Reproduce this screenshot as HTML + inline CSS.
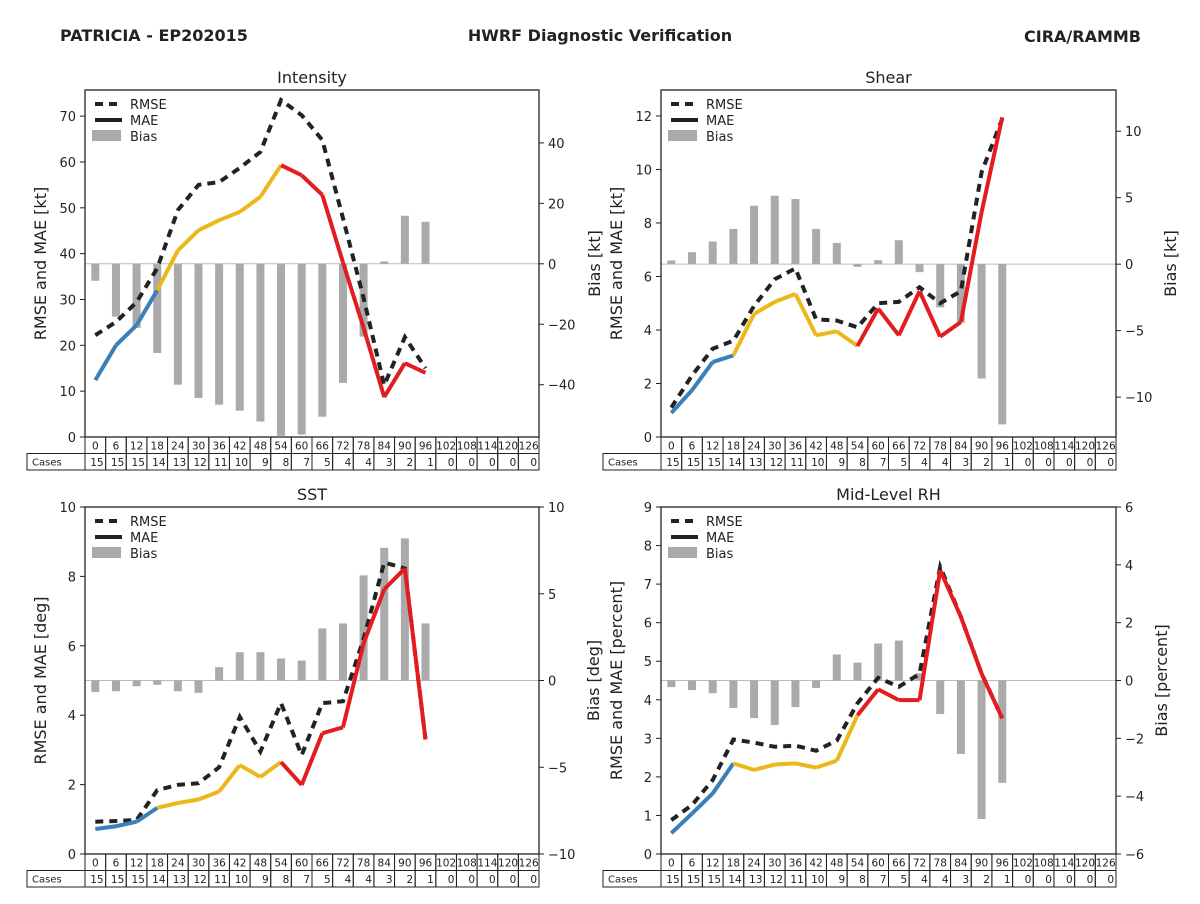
<!DOCTYPE html>
<html><head><meta charset="utf-8">
<style>
html,body{margin:0;padding:0;background:#fff;}
body{width:1200px;height:900px;overflow:hidden;font-family:"DejaVu Sans","Liberation Sans",sans-serif;}
svg text{font-family:"DejaVu Sans","Liberation Sans",sans-serif;fill:#222;}
</style></head>
<body>
<svg id="fig" width="1200" height="900" viewBox="0 0 1200 900">
<text x="60" y="41" font-size="16" font-weight="bold">PATRICIA - EP202015</text>
<text x="600" y="41" font-size="16" font-weight="bold" text-anchor="middle">HWRF Diagnostic Verification</text>
<text x="1141" y="42" font-size="16" font-weight="bold" text-anchor="end">CIRA/RAMMB</text>
</svg>
<script>
const leadTimes = [0,6,12,18,24,30,36,42,48,54,60,66,72,78,84,90,96,102,108,114,120,126];
const cases = [15,15,15,14,13,12,11,10,9,8,7,5,4,4,3,2,1,0,0,0,0,0];

const intRmse = [22.2,25.1,29.4,36.8,49.5,55,55.6,58.7,62.2,73.5,70.2,64.8,47.7,30.3,11.3,21.8,15];
const intMae = [12.4,20,24.4,32,40.7,45.1,47.3,49.1,52.4,59.3,57.1,52.8,38.1,23.8,8.7,16.1,14];
const intBias = [-5.6,-17.5,-21.2,-29.5,-40,-44.4,-46.6,-48.6,-52.2,-56.9,-56.5,-50.6,-39.4,-24.1,0.8,15.9,13.9];

const shRmse = [1.1,2.3,3.3,3.6,4.9,5.9,6.3,4.4,4.35,4.1,5.0,5.05,5.6,5.0,5.45,9.9,11.9];
const shMae = [0.9,1.75,2.8,3.05,4.6,5.05,5.35,3.8,3.95,3.4,4.8,3.8,5.45,3.75,4.3,8.4,11.95];
const shBias = [0.28,0.9,1.7,2.65,4.4,5.15,4.9,2.65,1.6,-0.2,0.3,1.8,-0.6,-3.25,-4.4,-8.6,-12.05];

const sstRmse = [0.93,0.95,0.98,1.84,1.99,2.04,2.5,3.95,2.95,4.35,2.85,4.35,4.4,6.2,8.4,8.23,3.3];
const sstMae = [0.72,0.8,0.93,1.33,1.47,1.57,1.8,2.56,2.22,2.65,1.99,3.48,3.65,6.07,7.63,8.23,3.3];
const sstBias = [-0.67,-0.62,-0.33,-0.25,-0.62,-0.71,0.77,1.63,1.63,1.27,1.15,3.0,3.29,6.06,7.65,8.19,3.29];

const rhRmse = [0.88,1.27,1.92,2.97,2.89,2.78,2.81,2.68,2.94,3.91,4.57,4.34,4.67,7.45,6.15,4.68,3.52];
const rhMae = [0.54,1.05,1.57,2.35,2.18,2.32,2.35,2.24,2.42,3.6,4.27,3.99,3.99,7.36,6.15,4.68,3.52];
const rhBias = [-0.23,-0.33,-0.44,-0.95,-1.3,-1.54,-0.92,-0.26,0.9,0.62,1.28,1.38,0.25,-1.16,-2.54,-4.79,-3.54];

const intLeftTicks = [0,10,20,30,40,50,60,70];
const intRightTicks = [-40,-20,0,20,40];
const shLeftTicks = [0,2,4,6,8,10,12];
const shRightTicks = [-10,-5,0,5,10];
const sstLeftTicks = [0,2,4,6,8,10];
const sstRightTicks = [-10,-5,0,5,10];
const rhLeftTicks = [0,1,2,3,4,5,6,7,8,9];
const rhRightTicks = [-6,-4,-2,0,2,4,6];

const NS = 'http://www.w3.org/2000/svg';
const fig = document.getElementById('fig');
function mk(tag, attrs, parent){
  const e = document.createElementNS(NS, tag);
  for (const k in attrs) e.setAttribute(k, attrs[k]);
  (parent||fig).appendChild(e);
  return e;
}
function colorFor(t){ return t < 18 ? '#3a7fb8' : (t < 54 ? '#ebb81b' : '#e31c1f'); }

function panel(p){
  const g = mk('g', {});
  
  
  const L = p.x0, R = p.x1, T = p.y0, B = p.y1;
  const n = leadTimes.length;
  const cw = (R - L) / n;
  const xs = i => L + (i + 0.5) * cw;
  const yl = v => B - (v - p.lmin) / (p.lmax - p.lmin) * (B - T);
  const yr = v => B - (v - p.rmin) / (p.rmax - p.rmin) * (B - T);
  mk('rect', {x:L, y:T, width:R-L, height:B-T, fill:'#fff'}, g);
  // zero bias line
  const zl = mk('line', {x1:L, x2:R, y1:yr(0), y2:yr(0), stroke:'#bbb', 'stroke-width':1}, g);
  
  
  // bias bars
  p.bias.forEach((v, i) => {
    const y0 = yr(0), y1 = yr(v);
    const r = mk('rect', {x:xs(i)-4, y:Math.min(y0,y1), width:8, height:Math.abs(y1-y0), fill:'#aaaaaa'}, g);
    
    
  });
  // rmse
  const rp = p.rmse.map((v,i)=>xs(i).toFixed(1)+','+yl(v).toFixed(1)).join(' ');
  const rl = mk('polyline', {points:rp, fill:'none', stroke:'#222', 'stroke-width':4, 'stroke-dasharray':'8,6'}, g);
  
  
  // mae segments
  for (let i = 0; i < p.mae.length - 1; i++) {
    const s = mk('line', {x1:xs(i), y1:yl(p.mae[i]), x2:xs(i+1), y2:yl(p.mae[i+1]), stroke:colorFor(leadTimes[i]), 'stroke-width':4, 'stroke-linecap':'butt'}, g);
    
    
  }
  // frame
  mk('rect', {x:L, y:T, width:R-L, height:B-T, fill:'none', stroke:'#222', 'stroke-width':1.3}, g);
  // left ticks
  p.lt.forEach(v => {
    const y = yl(v);
    mk('line', {x1:L-5, x2:L, y1:y, y2:y, stroke:'#222', 'stroke-width':1}, g);
    const t = mk('text', {x:L-9, y:y+5, 'font-size':13, 'text-anchor':'end'}, g);
    t.textContent = v;
    
    
  });
  p.rt.forEach(v => {
    const y = yr(v);
    mk('line', {x1:R, x2:R+5, y1:y, y2:y, stroke:'#222', 'stroke-width':1}, g);
    const t = mk('text', {x:R+9, y:y+5, 'font-size':13, 'text-anchor':'start'}, g);
    t.textContent = v < 0 ? '\u2212' + Math.abs(v) : v;
    
    
  });
  // titles
  const tt = mk('text', {x:(L+R)/2, y:T-7, 'font-size':16, 'text-anchor':'middle'}, g);
  tt.textContent = p.title;
  
  
  const cy = (T+B)/2;
  const ylab = mk('text', {x:0, y:0, 'font-size':16, 'text-anchor':'middle', transform:`translate(${L-39},${cy}) rotate(-90)`}, g);
  ylab.textContent = p.ylabel;
  
  
  const rlab = mk('text', {x:0, y:0, 'font-size':16, 'text-anchor':'middle', transform:`translate(${R+p.rOff},${cy}) rotate(-90)`}, g);
  rlab.textContent = p.rlabel;
  
  
  // legend
  const lg = mk('g', {}, g);
  
  
  const lx = L + 10, ly = T + 14;
  mk('line', {x1:lx, x2:lx+27, y1:ly, y2:ly, stroke:'#222', 'stroke-width':4, 'stroke-dasharray':'8,6'}, lg);
  mk('line', {x1:lx, x2:lx+27, y1:ly+16, y2:ly+16, stroke:'#222', 'stroke-width':4}, lg);
  mk('rect', {x:lx-3, y:ly+26, width:29, height:11, fill:'#aaa'}, lg);
  ['RMSE','MAE','Bias'].forEach((s,k)=>{
    const t = mk('text', {x:lx+35, y:ly+5+k*16, 'font-size':13}, lg);
    t.textContent = s;
    
    
  });
  // table
  const tb = mk('g', {}, g);
  
  
  const r1 = B, r2 = B + 16.5, r3 = B + 33;
  mk('rect', {x:L-58, y:r2, width:58, height:r3-r2, fill:'none', stroke:'#222', 'stroke-width':1}, tb);
  const cl = mk('text', {x:L-53, y:r2+12, 'font-size':10}, tb);
  cl.textContent = 'Cases';
  
  
  leadTimes.forEach((t,i)=>{
    const x = L + i*cw;
    mk('rect', {x:x, y:r1, width:cw, height:r2-r1, fill:'none', stroke:'#222', 'stroke-width':1}, tb);
    mk('rect', {x:x, y:r2, width:cw, height:r3-r2, fill:'none', stroke:'#222', 'stroke-width':1}, tb);
    const a = mk('text', {x:x+cw/2, y:r1+12.5, 'font-size':10.5, 'text-anchor':'middle'}, tb);
    a.textContent = t;
    
    
    const b = mk('text', {x:x+cw-2, y:r2+12.5, 'font-size':10.5, 'text-anchor':'end'}, tb);
    b.textContent = cases[i];
    
    
  });
}

panel({id:'intensity', title:'Intensity', x0:85, x1:539, y0:90, y1:437, lmin:0, lmax:75.7, rmin:-57.3, rmax:57.5,
  rmse:intRmse, mae:intMae, bias:intBias, lt:intLeftTicks, rt:intRightTicks,
  ylabel:'RMSE and MAE [kt]', rlabel:'Bias [kt]', rOff:61});
panel({id:'shear', title:'Shear', x0:661, x1:1116, y0:90, y1:437, lmin:0, lmax:12.97, rmin:-13.0, rmax:13.1,
  rmse:shRmse, mae:shMae, bias:shBias, lt:shLeftTicks, rt:shRightTicks,
  ylabel:'RMSE and MAE [kt]', rlabel:'Bias [kt]', rOff:60});
panel({id:'sst', title:'SST', x0:85, x1:539, y0:507, y1:854, lmin:0, lmax:10, rmin:-10, rmax:10,
  rmse:sstRmse, mae:sstMae, bias:sstBias, lt:sstLeftTicks, rt:sstRightTicks,
  ylabel:'RMSE and MAE [deg]', rlabel:'Bias [deg]', rOff:60});
panel({id:'rh', title:'Mid-Level RH', x0:661, x1:1116, y0:507, y1:854, lmin:0, lmax:9, rmin:-6, rmax:6,
  rmse:rhRmse, mae:rhMae, bias:rhBias, lt:rhLeftTicks, rt:rhRightTicks,
  ylabel:'RMSE and MAE [percent]', rlabel:'Bias [percent]', rOff:51});
</script>
</body></html>
